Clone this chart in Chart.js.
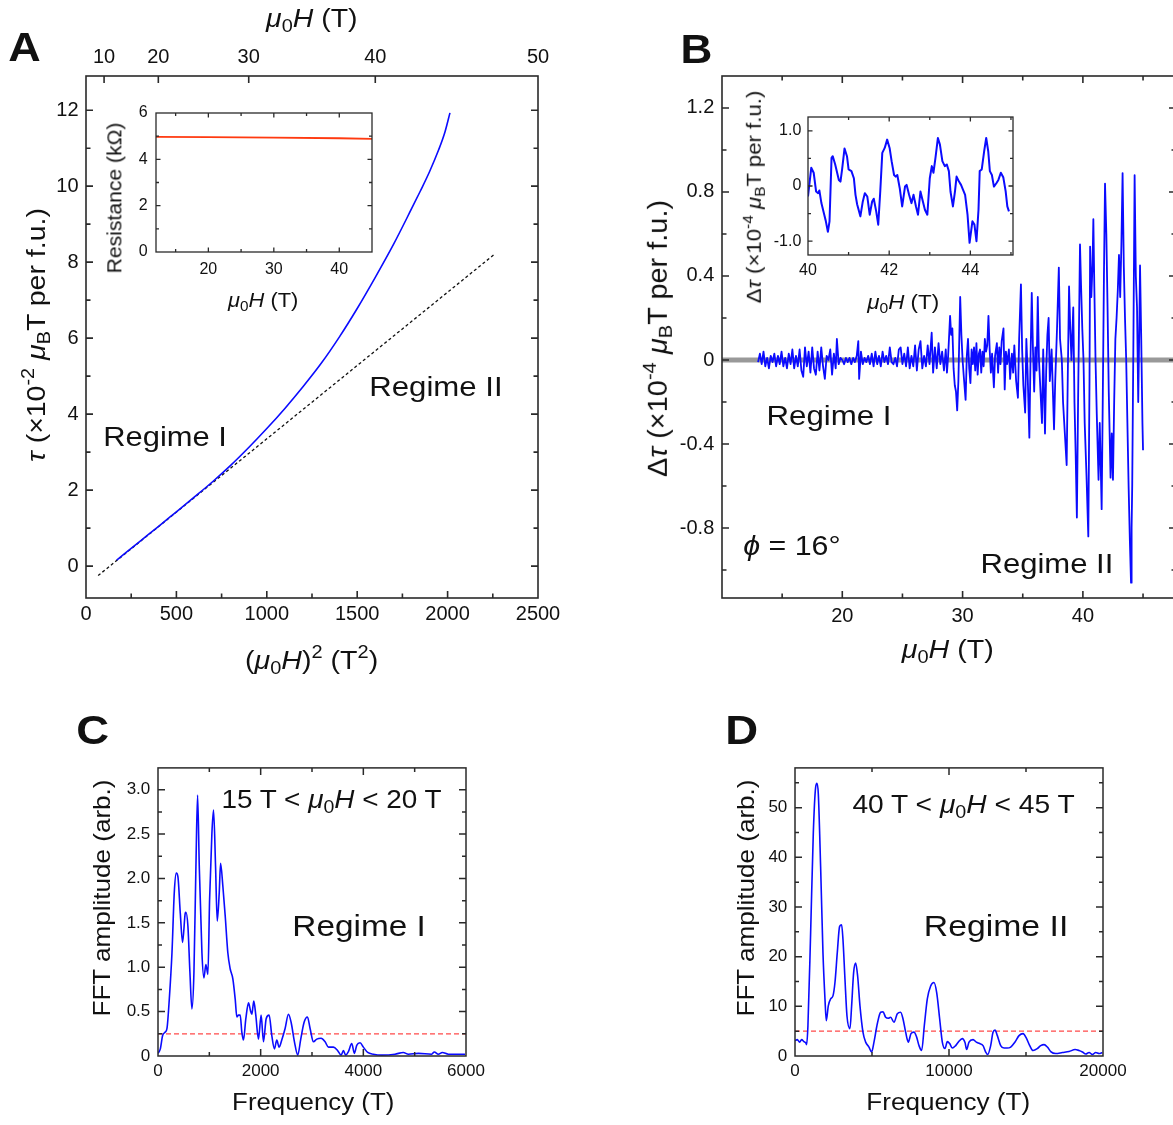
<!DOCTYPE html>
<html><head><meta charset="utf-8">
<script src="https://cdn.jsdelivr.net/npm/chart.js@4"></script>
<style>
html,body{margin:0;padding:0;background:#fff;overflow:hidden;width:1173px;height:1125px;}
#root{position:relative;width:1173px;height:1125px;overflow:hidden;font-family:"Liberation Sans",Arial,Helvetica,sans-serif;color:#111;background:#fff;}
canvas{position:absolute;}
.t{position:absolute;white-space:nowrap;line-height:1;transform-origin:50% 50%;}
.b{font-weight:bold;}
sub{font-size:70%;vertical-align:-0.28em;line-height:0;}
sup{font-size:70%;vertical-align:0.6em;line-height:0;}
i{font-style:italic;}
</style></head><body><div id="root">
<canvas id="cA"></canvas>
<canvas id="cAi"></canvas>
<canvas id="cB"></canvas>
<canvas id="cBi"></canvas>
<canvas id="cC"></canvas>
<canvas id="cD"></canvas>

<div class="t b" data-c="24.4,46.6,32.6,40,0">A</div>
<div class="t b" data-c="696,48.6,32,40,0">B</div>
<div class="t b" data-c="93.3,730,33.3,41,0">C</div>
<div class="t b" data-c="741.7,730,33.3,41,0">D</div>

<div class="t" data-c="312,17.5,92,26,0"><i>μ</i><sub>0</sub><i>H</i> (T)</div>
<div class="t" data-c="311.5,659.6,133,26,0">(<i>μ</i><sub>0</sub><i>H</i>)<sup>2</sup> (T<sup>2</sup>)</div>
<div class="t" data-c="36,335,254,26,-90"><i>τ</i> (×10<sup>-2</sup> <i>μ</i><sub>B</sub>T per f.u.)</div>
<div class="t" data-c="164.6,437,123.6,28,0">Regime I</div>
<div class="t" data-c="435.6,386.6,133.6,28,0">Regime II</div>
<div class="t" data-c="114,198,151,20,-90">Resistance (kΩ)</div>
<div class="t" data-c="263,300,70,20,0"><i>μ</i><sub>0</sub><i>H</i> (T)</div>

<div class="t" data-c="658,338,277.5,27,-90">Δ<i>τ</i> (×10<sup>-4</sup> <i>μ</i><sub>B</sub>T per f.u.)</div>
<div class="t" data-c="948,648.5,92.5,26,0"><i>μ</i><sub>0</sub><i>H</i> (T)</div>
<div class="t" data-c="828.5,416,125,28,0">Regime I</div>
<div class="t" data-c="1046.5,564,133,28,0">Regime II</div>
<div class="t" data-c="792,546.4,97.6,28,0"><i>ϕ</i> = 16°</div>
<div class="t" data-c="754,197,213,20,-90">Δ<i>τ</i> (×10<sup>-4</sup> <i>μ</i><sub>B</sub>T per f.u.)</div>
<div class="t" data-c="902.5,301.5,71.6,20,0"><i>μ</i><sub>0</sub><i>H</i> (T)</div>

<div class="t" data-c="101.5,898.3,236.7,24,-90">FFT amplitude (arb.)</div>
<div class="t" data-c="312.5,1102.5,161.7,23,0">Frequency (T)</div>
<div class="t" data-c="331.7,798.5,220,26,0">15 T &lt; <i>μ</i><sub>0</sub><i>H</i> &lt; 20 T</div>
<div class="t" data-c="359,926.5,133.3,29,0">Regime I</div>

<div class="t" data-c="746,898.3,236.7,24,-90">FFT amplitude (arb.)</div>
<div class="t" data-c="948.3,1102.5,163.3,23,0">Frequency (T)</div>
<div class="t" data-c="963.8,804,222.3,26,0">40 T &lt; <i>μ</i><sub>0</sub><i>H</i> &lt; 45 T</div>
<div class="t" data-c="996,926,144.3,29,0">Regime II</div>
</div>
<script>
// ---------------- DATA ----------------
// Panel A: torque vs (mu0 H)^2
const aH2  = [170,300,400,500,600,700,800,900,1000,1100,1200,1300,1400,1500,1600,1700,1800,1850,1900,1950,1985,2013];
const aTau = [0.16,0.66,1.04,1.43,1.82,2.22,2.65,3.12,3.62,4.15,4.72,5.33,6.02,6.78,7.6,8.46,9.4,9.88,10.38,10.95,11.42,11.93];
const aFitX = [67,2257];
const aFitY = [-0.25,8.2];
const aXTicks = [0,500,1000,1500,2000,2500];
const aXMinor = [250,750,1250,1750,2250];
const aYTicks = [0,2,4,6,8,10,12];
const aYMinor = [1,3,5,7,9,11];
const aTopFieldTicks = [10,20,30,40,50];
// Inset A: resistance
const iaField = [12,20,30,40,45];
const iaRes   = [4.97,4.96,4.94,4.91,4.88];
const iaXTicks = [20,30,40], iaXMinor = [15,25,35,45];
const iaYTicks = [0,2,4,6], iaYMinor = [1,3,5];

// Panel B: oscillatory torque
const bField1 = [13.0,13.15,13.3,13.45,13.6,13.75,13.9,14.05,14.2,14.35,14.5,14.65,14.8,14.95,15.1,15.25,15.4,15.55,15.7,15.85,16.0,16.15,16.3,16.45,16.6,16.75,16.9,17.05,17.2,17.35,17.5,17.65,17.8,17.95,18.1,18.25,18.4,18.55,18.7,18.85,19.0,19.15,19.3,19.45,19.55,19.7,19.85,20.0,20.15,20.3,20.45,20.6,20.75,20.9,21.05,21.2,21.33,21.4,21.55,21.7,21.85,22.0,22.15,22.3,22.45,22.6,22.75,22.9,23.05,23.2,23.35,23.5,23.65,23.8,23.95,24.1,24.25,24.4,24.55,24.7,24.85,25.0,25.15,25.3,25.45,25.6,25.75,25.9,26.05,26.2,26.35,26.5,26.65,26.8,26.95,27.1,27.25,27.43,27.55,27.7,27.85,28.0,28.15,28.3,28.45];
const bTau1 = [-0.01,0.03,-0.02,0.04,-0.03,0.01,-0.04,0.02,-0.01,0.03,
 -0.03,0.02,-0.02,0.04,-0.03,0.01,-0.04,0.03,-0.02,0.05,
 -0.04,0.02,-0.03,0.05,-0.05,-0.08,0.06,-0.03,0.04,-0.06,
 0.06,-0.04,-0.07,0.04,-0.05,0.06,-0.03,-0.09,0.02,0.00,
 0.05,-0.07,0.03,-0.04,0.10,-0.02,0.01,0.00,-0.02,0.01,
 -0.01,0.01,-0.02,0.01,-0.01,0.02,0.09,-0.09,0.04,-0.02,
 0.01,-0.01,0.02,-0.02,0.03,-0.03,0.04,-0.02,0.02,-0.03,
 0.04,-0.01,0.02,-0.02,0.06,-0.01,-0.02,0.01,-0.03,0.05,
 0.06,-0.02,0.03,-0.03,0.06,-0.04,0.02,-0.03,0.07,-0.05,
 0.05,0.09,-0.04,0.02,-0.03,0.07,-0.02,0.13,-0.06,0.06,
 -0.04,0.08,-0.02,0.04,-0.05];
const bField2 = [28.6,28.7,28.8,28.96,29.05,29.15,29.25,29.35,29.45,29.55,
 29.65,29.8,29.9,30.0,30.1,30.25,30.35,30.45,30.55,30.65,
 30.75,30.85,30.95,31.05,31.15,31.25,31.35,31.45,31.55,31.65,
 31.75,31.85,31.95,32.05,32.15,32.25,32.35,32.45,32.6,32.7,
 32.85,32.95,33.05,33.15,33.25,33.4,33.5,33.6,33.7,33.85,
 33.95,34.1,34.2,34.3,34.45,34.6,34.7,34.85,34.95,35.05,
 35.2,35.3,35.4,35.55,35.65,35.75,35.85,35.95,36.05,36.15,
 36.25,36.35,36.45,36.6,36.7,36.85,36.95,37.05,37.15,37.25,
 37.4,37.6,37.7,37.85,38.0,38.1,38.25,38.35,38.5,38.65,
 38.75,38.85,38.95,39.05,39.2,39.3,39.4,39.5,39.6,39.76,
 39.85,39.95,40.05,40.15,40.3,40.45,40.55,40.6,40.7,40.8,
 40.87,40.95,41.05,41.15,41.3,41.4,41.5,41.56,41.65,41.75,
 41.84,41.95,42.05,42.15,42.3,42.4,42.5,42.6,42.7,42.8,
 42.9,43.0,43.1,43.2,43.3,43.4,43.5,43.6,43.7,43.8,
 43.9,44.0,44.05,44.1,44.2,44.3,44.4,44.5,44.6,44.7,
 44.75,44.85,44.95,45.0];
const bTau2 = [0.05,-0.06,0.02,0.21,0.12,0.15,-0.04,-0.12,-0.15,-0.24,
 -0.10,0.30,0.12,0.0,-0.08,-0.19,0.02,0.10,-0.04,-0.11,
 0.05,-0.02,0.06,-0.05,0.08,-0.07,0.03,0.05,-0.06,0.04,
 -0.03,0.10,0.04,0.07,0.21,0.05,-0.06,0.03,-0.13,0.02,
 0.08,-0.06,0.06,-0.02,0.09,0.15,-0.14,0.04,-0.02,0.05,
 -0.09,0.03,-0.06,0.07,-0.10,-0.18,0.10,0.36,0.05,-0.12,
 -0.25,0.10,-0.05,-0.37,0.02,0.32,0.05,-0.15,0.06,-0.05,
 0.30,0.0,-0.12,-0.30,0.05,-0.35,-0.05,0.12,0.20,-0.10,
 0.05,-0.33,-0.10,0.15,0.44,0.10,0.0,-0.20,-0.35,-0.50,
 -0.05,0.35,0.15,0.0,0.25,-0.20,-0.45,-0.75,-0.20,0.55,
 0.35,0.15,0.0,-0.30,-0.55,-0.84,-0.10,0.54,0.30,0.45,
 0.67,0.35,0.0,-0.25,-0.57,-0.30,-0.55,-0.71,-0.20,0.40,
 0.84,0.60,0.25,-0.15,-0.56,-0.35,-0.57,-0.20,0.10,0.20,
 0.33,0.50,0.30,0.55,0.89,0.45,0.20,0.00,-0.30,-0.60,
 -0.85,-1.06,-0.80,-0.60,0.10,0.88,0.40,0.25,-0.20,0.20,
 0.45,0.10,-0.30,-0.43];
const bZeroX = [10,48];
const bZeroY = [0,0];
const bXTicks = [20,30,40], bXMinor = [15,25,35,45];
const bYTicks = [-0.8,-0.4,0,0.4,0.8,1.2], bYMinor = [-1.0,-0.6,-0.2,0.2,0.6,1.0];
// Inset B: 40-45 T zoom
const ibField = [40.0,40.08,40.14,40.2,40.25,40.28,40.33,40.39,40.44,40.49,40.53,40.58,40.61,40.67,40.76,40.8,40.84,40.9,40.96,41.0,41.07,41.13,41.17,41.21,41.29,41.35,41.4,41.46,41.52,41.58,41.62,41.68,41.73,41.78,41.83,41.89,41.95,42.01,42.06,42.12,42.16,42.2,42.26,42.32,42.39,42.43,42.49,42.55,42.6,42.66,42.71,42.77,42.83,42.88,42.94,43.0,43.05,43.09,43.14,43.2,43.25,43.31,43.37,43.42,43.47,43.51,43.57,43.62,43.66,43.72,43.77,43.82,43.87,43.93,43.98,44.05,44.1,44.15,44.2,44.23,44.28,44.34,44.39,44.44,44.48,44.53,44.58,44.64,44.69,44.75,44.81,44.87,44.91,44.95];
const ibTau = [-0.19,0.33,0.24,-0.1,-0.13,-0.08,-0.31,-0.49,-0.64,-0.83,-0.64,0.51,0.54,0.39,0.11,0.08,0.30,0.68,0.54,0.30,0.27,0.14,-0.16,-0.33,-0.55,-0.28,-0.13,-0.19,-0.52,-0.28,-0.23,-0.46,-0.70,-0.1,0.60,0.69,0.84,0.69,0.45,0.2,0.17,0.2,-0.04,-0.37,-0.01,0.02,-0.16,-0.31,-0.16,-0.37,-0.52,-0.1,-0.28,-0.43,-0.52,0.14,0.36,0.24,0.51,0.87,0.75,0.45,0.36,0.39,0.27,-0.1,-0.37,-0.1,0.17,0.08,0.02,-0.07,-0.16,-0.52,-1.03,-0.64,-0.7,-1.0,-0.43,0.27,0.30,0.63,0.87,0.63,0.27,0.2,-0.01,0.05,0.11,0.24,0.16,-0.1,-0.37,-0.46];
const ibXTicks = [40,42,44], ibXMinor = [41,43,45];
const ibYTicks = [-1,0,1], ibYMinor = [-0.5,0.5];

// Panel C: FFT 15-20 T
const cFreq = [0,45,90,142,175,220,272,317,356,388,434,479,531,544,583,622,661,700,739,771,804,856,894,933,972,1005,1050,1082,1121,1154,1193,1219,1264,1309,1361,1407,1458,1504,1536,1568,1601,1633,1665,1711,1763,1802,1828,1866,1905,1957,2009,2055,2107,2165,2217,2269,2314,2359,2411,2476,2541,2593,2658,2722,2781,2846,2911,2963,3028,3093,3177,3255,3320,3417,3501,3566,3612,3657,3709,3774,3826,3871,3936,4001,4085,4196,4358,4617,4779,4877,5072,5331,5383,5461,5539,5656,5980];
const cAmp = [0.03,0.08,0.23,0.27,0.31,0.64,1.16,1.84,2.06,2.02,1.61,1.28,1.61,1.62,1.46,0.94,0.53,0.94,2.14,2.94,2.14,1.16,0.88,1.03,0.92,1.76,2.51,2.77,2.14,1.52,1.84,2.17,1.91,1.58,1.16,0.98,0.87,0.64,0.44,0.46,0.46,0.27,0.18,0.42,0.6,0.51,0.47,0.62,0.46,0.19,0.46,0.16,0.42,0.46,0.23,0.08,0.18,0.1,0.18,0.31,0.47,0.38,0.16,0.01,0.19,0.38,0.44,0.31,0.16,0.19,0.2,0.16,0.1,0.1,0.06,0.01,0.06,0.01,0.05,0.14,0.03,0.12,0.15,0.1,0.04,0.02,0.01,0.02,0.04,0.02,0.03,0.02,0.045,0.02,0.04,0.02,0.02];
const cNoise = 0.25;
const cXTicks = [0,2000,4000,6000], cXMinor = [1000,3000,5000];
const cYTicks = [0,0.5,1.0,1.5,2.0,2.5,3.0], cYMinor = [0.25,0.75,1.25,1.75,2.25,2.75];

// Panel D: FFT 40-45 T
const dFreq = [0,150,300,430,580,690,755,840,1015,1188,1340,1426,1513,1664,1816,1946,2032,2162,2314,2465,2595,2746,2898,3028,3114,3244,3374,3569,3677,3807,3937,4067,4219,4413,4587,4803,4976,5128,5345,5561,5713,5886,6059,6211,6427,6644,6860,7011,7185,7358,7531,7726,7899,8051,8224,8397,8592,8809,9025,9198,9393,9566,9740,9891,10043,10216,10433,10606,10866,11039,11147,11299,11559,11776,11992,12209,12382,12512,12707,12858,12988,13140,13356,13573,13789,14006,14288,14548,14808,15024,15241,15457,15739,15956,16172,16389,16605,16930,17363,17796,18186,18446,18663,18879,19096,19312,19529,19746,19962];
const dAmp = [3.1,3.3,2.8,3.3,2.9,2.7,2.3,6.1,24.8,44.8,54.1,54.9,52.8,38.1,20.8,11.5,7.1,10.1,11.5,12.1,14.8,20.8,26.1,26.4,23.5,15.5,8.1,5.5,10.1,16.8,18.7,16.1,10.1,4.8,2.8,1.8,0.8,2.8,6.5,8.8,8.9,7.8,7.6,7.8,6.8,8.5,8.8,7.5,4.8,2.8,4.5,4.8,3.8,2.1,1.1,6.1,11.5,14.1,14.8,12.8,7.5,2.8,1.5,2.9,2.5,1.6,2.1,2.8,3.5,2.7,1.3,2.8,3.3,2.8,2.5,2.1,0.8,0.3,2.1,4.8,5.2,4.1,2.1,1.6,1.6,1.8,2.8,4.1,4.5,3.6,2.1,1.1,1.5,2.1,2.3,1.8,0.9,0.5,0.7,0.9,1.3,1.1,0.8,0.4,0.7,0.3,0.7,0.5,0.7];
const dNoise = 5;
const dXTicks = [0,10000,20000], dXMinor = [5000,15000];
const dYTicks = [0,10,20,30,40,50], dYMinor = [5,15,25,35,45,55];

// ---------------- RENDER ----------------
const FONT = '"Liberation Sans", Arial, Helvetica, sans-serif';
const BLUE = '#0b0bff';
const pts = (xs, ys) => xs.map((x, i) => ({x: x, y: ys[i]}));

const framePlugin = {
  id: 'frame',
  afterDraw(chart, args, o) {
    const {ctx, chartArea: a, scales} = chart;
    const xs = scales.x, ys = scales.y, xt = scales.xTop;
    ctx.save();
    ctx.strokeStyle = o.color || '#333';
    ctx.lineWidth = o.lw || 1.5;
    ctx.beginPath();
    const inside = (p, lo, hi) => p > lo + 0.6 && p < hi - 0.6;
    const hT = (sc, vals, len, top, bot) => vals.forEach(v => {
      const p = sc.getPixelForValue(v);
      if (!inside(p, a.left, a.right)) return;
      if (bot) { ctx.moveTo(p, a.bottom); ctx.lineTo(p, a.bottom - len); }
      if (top) { ctx.moveTo(p, a.top); ctx.lineTo(p, a.top + len); }
    });
    const vT = (vals, len) => vals.forEach(v => {
      const p = ys.getPixelForValue(v);
      if (!inside(p, a.top, a.bottom)) return;
      ctx.moveTo(a.left, p); ctx.lineTo(a.left + len, p);
      ctx.moveTo(a.right, p); ctx.lineTo(a.right - len, p);
    });
    hT(xs, xs.ticks.map(t => t.value), o.maj, !xt, true);
    hT(xs, o.xMinor || [], o.min, !xt, true);
    if (xt) hT(xt, xt.ticks.map(t => t.value), o.maj, true, false);
    vT(ys.ticks.map(t => t.value), o.maj);
    vT(o.yMinor || [], o.min);
    ctx.stroke();
    ctx.strokeRect(a.left, a.top, a.right - a.left, a.bottom - a.top);
    ctx.restore();
  }
};

function mk(id, box, area, o) {
  const cv = document.getElementById(id);
  cv.width = box.w; cv.height = box.h;
  cv.style.left = box.l + 'px'; cv.style.top = box.t + 'px';
  cv.style.width = box.w + 'px'; cv.style.height = box.h + 'px';
  const yW = area.l - box.l, rP = box.l + box.w - area.r, tP = area.t - box.t, xH = box.t + box.h - area.b;
  const tf = {family: FONT, size: o.fs};
  const scales = {
    x: {type: 'linear', position: 'bottom', min: o.xMin, max: o.xMax,
      grid: {display: false, drawTicks: false}, border: {display: false},
      ticks: {font: tf, color: '#111', padding: o.xPad, maxRotation: 0, minRotation: 0, autoSkip: false,
        callback: o.xFmt || (v => String(v))},
      afterBuildTicks: s => { s.ticks = o.xTicks.map(v => ({value: v})); },
      afterFit: s => { s.height = xH; }},
    y: {type: 'linear', position: 'left', min: o.yMin, max: o.yMax,
      grid: {display: false, drawTicks: false}, border: {display: false},
      ticks: {font: tf, color: '#111', padding: o.yPad, autoSkip: false,
        callback: o.yFmt || (v => String(v))},
      afterBuildTicks: s => { s.ticks = o.yTicks.map(v => ({value: v})); },
      afterFit: s => { s.width = yW; }}
  };
  if (o.top) {
    scales.xTop = {type: 'linear', position: 'top', min: o.xMin, max: o.xMax,
      grid: {display: false, drawTicks: false}, border: {display: false},
      ticks: {font: tf, color: '#111', padding: o.top.pad, maxRotation: 0, autoSkip: false, callback: o.top.fmt},
      afterBuildTicks: s => { s.ticks = o.top.vals.map(v => ({value: v})); },
      afterFit: s => { s.height = tP; }};
  }
  return new Chart(cv, {
    type: 'line',
    data: {datasets: o.datasets},
    options: {
      responsive: false, animation: false, devicePixelRatio: 1,
      layout: {padding: {left: 0, right: rP, top: o.top ? 0 : tP, bottom: 0}},
      plugins: {legend: {display: false}, tooltip: {enabled: false},
        frame: {maj: o.maj, min: o.mnr, lw: o.lw, color: '#2a2a2a', xMinor: o.xMinor, yMinor: o.yMinor}},
      elements: {point: {radius: 0}, line: {borderJoinStyle: 'round'}},
      scales: scales
    },
    plugins: [framePlugin]
  });
}
const f1 = v => v === 0 ? '0' : v.toFixed(1);

// Panel A
mk('cA', {l: 0, t: 0, w: 580, h: 680}, {l: 86, r: 538, t: 76, b: 598}, {
  fs: 20, xMin: 0, xMax: 2500, yMin: -0.84, yMax: 12.9, xPad: 4.5, yPad: 7.5,
  xTicks: aXTicks, yTicks: aYTicks, xMinor: aXMinor, yMinor: aYMinor, maj: 7, mnr: 4.5, lw: 1.6,
  top: {vals: aTopFieldTicks.map(h => h * h), fmt: v => String(Math.round(Math.sqrt(v))), pad: 7},
  datasets: [
    {data: pts(aH2, aTau), borderColor: BLUE, borderWidth: 1.6, cubicInterpolationMode: 'monotone', pointRadius: 0},
    {data: pts(aFitX, aFitY), borderColor: '#111', borderWidth: 1.3, borderDash: [3, 2.5], pointRadius: 0}
  ]
});
// Inset A
mk('cAi', {l: 100, t: 95, w: 290, h: 200}, {l: 156, r: 372, t: 109, b: 252}, {
  fs: 16, xMin: 12, xMax: 45, yMin: 0, yMax: 6, xPad: 8, yPad: 8.4,
  xTicks: iaXTicks, yTicks: iaYTicks, xMinor: iaXMinor, yMinor: iaYMinor, maj: 4.5, mnr: 3, lw: 1.3,
  datasets: [
    {data: pts(iaField, iaRes), borderColor: '#ff3a10', borderWidth: 1.8, pointRadius: 0}
  ]
});
// Panel B
mk('cB', {l: 580, t: 0, w: 620, h: 680}, {l: 722, r: 1176, t: 76, b: 598}, {
  fs: 20, xMin: 10, xMax: 47.74, yMin: -1.133, yMax: 1.352, xPad: 6, yPad: 7.7,
  xTicks: bXTicks, yTicks: bYTicks, xMinor: bXMinor, yMinor: bYMinor, maj: 7, mnr: 4.5, lw: 1.6, yFmt: f1,
  datasets: [
    {data: pts(bField1.concat(bField2), bTau1.concat(bTau2)), borderColor: BLUE, borderWidth: 1.8, pointRadius: 0, order: 1},
    {data: pts(bZeroX, bZeroY), borderColor: '#999999', borderWidth: 5, pointRadius: 0, order: 2}
  ]
});
// Inset B
mk('cBi', {l: 760, t: 100, w: 270, h: 200}, {l: 808, r: 1013, t: 117, b: 255}, {
  fs: 16, xMin: 40, xMax: 45.05, yMin: -1.25, yMax: 1.25, xPad: 6.3, yPad: 6.7,
  xTicks: ibXTicks, yTicks: ibYTicks, xMinor: ibXMinor, yMinor: ibYMinor, maj: 4.5, mnr: 3, lw: 1.3, yFmt: f1,
  datasets: [
    {data: pts(ibField, ibTau), borderColor: BLUE, borderWidth: 2, pointRadius: 0}
  ]
});
// Panel C
mk('cC', {l: 100, t: 750, w: 400, h: 375}, {l: 158, r: 466, t: 766, b: 1056}, {
  fs: 17, xMin: 0, xMax: 6000, yMin: 0, yMax: 3.246, xPad: 4.7, yPad: 7.7,
  xTicks: cXTicks, yTicks: cYTicks, xMinor: cXMinor, yMinor: cYMinor, maj: 7, mnr: 4, lw: 1.5, yFmt: f1,
  datasets: [
    {data: pts(cFreq, cAmp), borderColor: BLUE, borderWidth: 1.6, cubicInterpolationMode: 'monotone', pointRadius: 0},
    {data: pts([0, 6000], [cNoise, cNoise]), borderColor: '#ff4a4a', borderWidth: 1.2, borderDash: [5, 3], pointRadius: 0}
  ]
});
// Panel D
mk('cD', {l: 740, t: 750, w: 420, h: 375}, {l: 795, r: 1103, t: 766, b: 1056}, {
  fs: 17, xMin: 0, xMax: 20000, yMin: 0, yMax: 58, xPad: 4.7, yPad: 7.7,
  xTicks: dXTicks, yTicks: dYTicks, xMinor: dXMinor, yMinor: dYMinor, maj: 7, mnr: 4, lw: 1.5,
  datasets: [
    {data: pts(dFreq, dAmp), borderColor: BLUE, borderWidth: 1.6, cubicInterpolationMode: 'monotone', pointRadius: 0},
    {data: pts([0, 20000], [dNoise, dNoise]), borderColor: '#ff4a4a', borderWidth: 1.2, borderDash: [5, 3], pointRadius: 0}
  ]
});

// ---------------- TEXT PLACEMENT ----------------
document.querySelectorAll('.t').forEach(el => {
  const [cx, cy, len, fs, rot] = el.dataset.c.split(',').map(Number);
  el.style.fontSize = fs + 'px';
  const w = el.offsetWidth, h = el.offsetHeight;
  const k = len / w;
  el.style.left = (cx - w / 2) + 'px';
  el.style.top = (cy - h / 2) + 'px';
  el.style.transform = 'rotate(' + rot + 'deg) scaleX(' + k.toFixed(3) + ')';
});
</script>
</body></html>
